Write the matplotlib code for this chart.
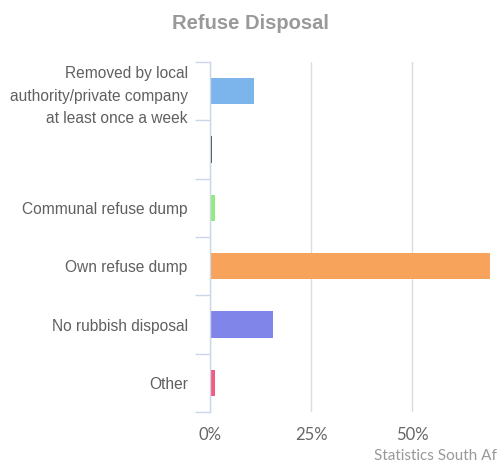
import numpy as np
import matplotlib.pyplot as plt

categories = [
    "Removed by local\nauthority/private company\nat least once a week",
    "",
    "Communal refuse dump",
    "Own refuse dump",
    "No rubbish disposal",
    "Other",
]
values = [10.9, 0.5, 1.2, 69.3, 15.6, 1.2]
colors = ["#7cb5ec", "#434348", "#90ed7d", "#f7a35c", "#8085e9", "#f15c80"]
xticks = [0, 25, 50]


def main():
    plt.rcParams["font.family"] = ["Liberation Sans", "DejaVu Sans"]
    fig = plt.figure(figsize=(5.0, 4.69), dpi=100)
    # axes runs off the right edge on purpose (image is cropped)
    ax = fig.add_axes([0.42, 0.1215, 0.606, 0.7463])

    y = np.arange(len(categories))
    ax.barh(y, values, height=0.45, color=colors, zorder=3)

    ax.set_xlim(0, 75)
    ax.set_ylim(len(categories) - 0.5, -0.5)

    ax.set_xticks(xticks)
    ax.set_xticklabels([f"{t}%" for t in xticks], color="#666666", fontsize=12,
                       family=["Lato", "DejaVu Sans"])
    ax.tick_params(axis="x", length=0, pad=11)

    ax.set_yticks(y)
    ax.set_yticklabels(categories, color="#606060", fontsize=11.2, linespacing=1.62)
    ax.tick_params(axis="y", which="major", length=0, pad=16)
    ax.set_yticks(np.arange(len(categories) + 1) - 0.5, minor=True)
    ax.tick_params(axis="y", which="minor", length=11, width=1, color="#ccd6eb")

    ax.grid(axis="x", color="#dcdcdc", lw=1, zorder=0)
    for s in ["top", "right", "bottom"]:
        ax.spines[s].set_visible(False)
    ax.spines["left"].set_color("#ccd6eb")
    ax.spines["left"].set_linewidth(1)
    ax.spines["left"].set_zorder(4)

    fig.text(0.5, 0.949, "Refuse Disposal", ha="center", va="center",
             fontsize=14.5, fontweight="bold", color="#999999")
    fig.text(0.748, 0.028, "Statistics South Af", ha="left", va="center",
             fontsize=11, color="#999999", family=["Lato", "DejaVu Sans"])

    fig.savefig("out.png", dpi=100)


if __name__ == "__main__":
    main()
